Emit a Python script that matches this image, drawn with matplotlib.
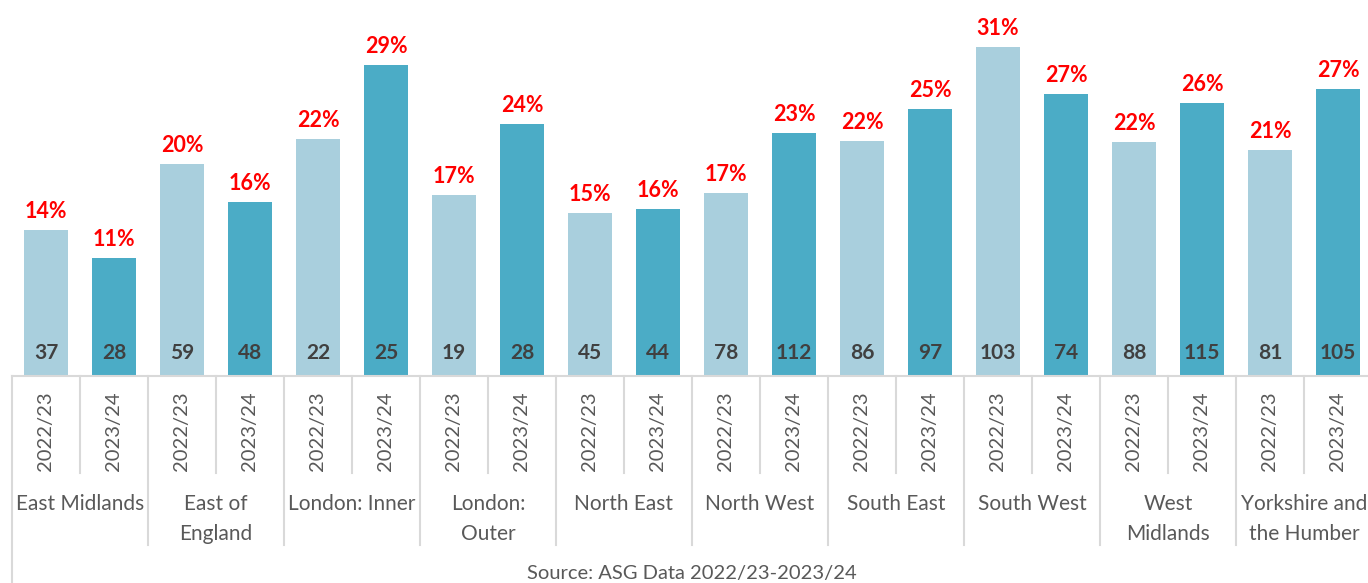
import matplotlib
matplotlib.use("Agg")
import matplotlib.pyplot as plt
import matplotlib.transforms as mtransforms

regions = ["East Midlands", "East of\nEngland", "London: Inner", "London:\nOuter",
           "North East", "North West", "South East", "South West",
           "West\nMidlands", "Yorkshire and\nthe Humber"]
years = ["2022/23", "2023/24"]
pct_2223 = [13.8, 20.0, 22.4, 17.1, 15.4, 17.3, 22.2, 31.0, 22.1, 21.3]
pct_2324 = [11.1, 16.4, 29.3, 23.8, 15.8, 22.9, 25.2, 26.6, 25.8, 27.1]
cnt_2223 = [37, 59, 22, 19, 45, 78, 86, 103, 88, 81]
cnt_2324 = [28, 48, 25, 28, 44, 112, 97, 74, 115, 105]
source = "Source: ASG Data 2022/23-2023/24"

c_light = "#a9cfdd"
c_dark = "#4bacc6"
grid_c = "#d9d9d9"
txt_c = "#595959"

plt.rcParams['font.family'] = ['Lato', 'DejaVu Sans']

W, H = 1368, 583
fig = plt.figure(figsize=(W / 100, H / 100), dpi=100)
left_px, right_px, base_px = 12, 1372, 376
ax = fig.add_axes([left_px / W, (H - base_px) / H, (right_px - left_px) / W, base_px / H])
ax.set_xlim(-0.5, 19.5)
ax.set_ylim(0, base_px / 10.6)
ax.axis('off')

def fy(px):
    # axes fraction for a pixel row below baseline
    return -(px - base_px) / base_px

trans = mtransforms.blended_transform_factory(ax.transData, ax.transAxes)

for i in range(len(regions)):
    for j, (pcts, cnts, col) in enumerate([(pct_2223, cnt_2223, c_light), (pct_2324, cnt_2324, c_dark)]):
        x = 2 * i + j
        v = pcts[i]
        ax.bar(x, v, width=0.66, color=col, zorder=2)
        ax.text(x, v + 0.75, f"{round(v)}%", ha='center', va='bottom', color='#ff0000',
                fontsize=15.5, fontweight='bold')
        ax.text(x, fy(353), str(cnts[i]), transform=trans, ha='center', va='center',
                color='#404040', fontsize=15, fontweight='bold')
        ax.text(x, fy(431), years[j], transform=trans, ha='center', va='center',
                rotation=90, color=txt_c, fontsize=14.5)
    ax.text(2 * i + 0.5, fy(494), regions[i], transform=trans, ha='center', va='top',
            color=txt_c, fontsize=15, linespacing=1.6)

# axis line
ax.plot([-0.5, 19.5], [0, 0], transform=trans, color=grid_c, lw=1.5, clip_on=False, zorder=3)
# separators
for k in range(21):
    x = k - 0.5
    if k == 0:
        y1 = fy(583)
    elif k % 2 == 0:
        y1 = fy(545)
    else:
        y1 = fy(473)
    ax.plot([x, x], [0, y1], transform=trans, color=grid_c, lw=1.5, clip_on=False)

fig.text(692 / W, 1 - 573 / H, source, ha='center', va='center', color=txt_c, fontsize=14.5)

fig.savefig("out.png", dpi=100)
